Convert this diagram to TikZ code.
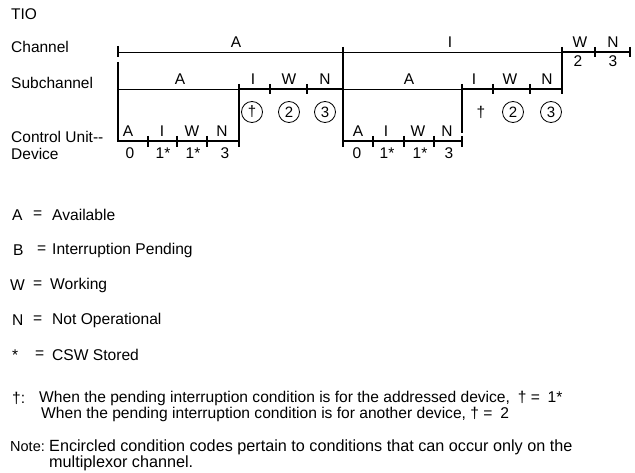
\documentclass[tikz,border=0pt]{standalone}
\usepackage{fontspec}
\setmainfont{Liberation Sans}
\begin{document}
\begin{tikzpicture}[x=1pt,y=-1pt,
  thinln/.style={line width=0.8pt},
  thickln/.style={line width=1.8pt},
  lbl/.style={inner sep=0pt, font=\fontsize{15.5}{18}\selectfont},
  lft/.style={lbl, anchor=west},
  key/.style={inner sep=0pt, anchor=west, font=\fontsize{15.6}{18}\selectfont},
  circ/.style={draw, circle, line width=0.8pt, minimum size=21pt, inner sep=0pt, font=\fontsize{15}{17}\selectfont}]
\useasboundingbox (0,0) rectangle (635,473);
% left labels
\node[lft] (tio) at (11,14) {TIO};
\node[lft] (ch) at (11,47) {Channel};
\node[lft] (sub) at (11,83) {Subchannel};
\node[lft] (cu) at (11,137) {Control Unit-{}-};
\node[lft] (dev) at (11,154) {Device};
% channel row
\draw[thickln] (118,46) -- (118,57);
\draw[thinln] (118,52) -- (343,52);
\draw[thinln] (343,52) -- (562,52);
\draw[thickln] (562,52) -- (630,52);
\foreach \x in {562,595,630} \draw[thickln] (\x,47) -- (\x,57);
\draw[thickln] (343,47) -- (343,143);
\draw[thickln] (562,52) -- (562,88);
\node[lbl] (chA) at (236,42) {A};
\node[lbl] (chI) at (450,42) {I};
\node[lbl] (chW) at (580,42) {W};
\node[lbl] (chN) at (613,42) {N};
\node[lbl] (ch2) at (578,61) {2};
\node[lbl] (ch3) at (613,61) {3};
% subchannel row
\draw[thickln] (118,62) -- (118,141);
\draw[thinln] (118,89) -- (239,89);
\draw[thickln] (239,89) -- (343,89);
\foreach \x in {239,270,307,343} \draw[thickln] (\x,84) -- (\x,94);
\draw[thickln] (239,89) -- (239,143);
\draw[thinln] (343,89) -- (462,89);
\draw[thickln] (462,89) -- (562,89);
\foreach \x in {462,493,530,562} \draw[thickln] (\x,84) -- (\x,94);
\draw[thickln] (462,89) -- (462,133);
\node[lbl] (sA1) at (180,79) {A};
\node[lbl] (sI1) at (253,79) {I};
\node[lbl] (sW1) at (289,79) {W};
\node[lbl] (sN1) at (325,79) {N};
\node[lbl] (sA2) at (409,79) {A};
\node[lbl] (sI2) at (474,79) {I};
\node[lbl] (sW2) at (510,79) {W};
\node[lbl] (sN2) at (547,79) {N};
% circles
\node[circ] (c1) at (252,112) {\dag};
\node[circ] (c2) at (289,112) {2};
\node[circ] (c3) at (325,112) {3};
\node[lbl] (d2) at (481,112) {\dag};
\node[circ] (c5) at (513,112) {2};
\node[circ] (c6) at (551,112) {3};
% control unit row
\draw[thickln] (117.1,141) -- (239,141);
\foreach \x in {148,177,207,239} \draw[thickln] (\x,136) -- (\x,147);
\draw[thickln] (343,141) -- (462,141);
\foreach \x in {343,373,404,434,462} \draw[thickln] (\x,136) -- (\x,147);
\foreach \t/\x/\n in {A/128/a1,I/162/a2,W/192/a3,N/222/a4,A/358/b1,I/386/b2,W/418/b3,N/447/b4}
  \node[lbl] (\n) at (\x,131) {\t};
\foreach \t/\x/\n in {0/130/e1,1*/163/e2,1*/193/e3,3/225/e4,0/357/f1,1*/387/f2,1*/420/f3,3/449/f4}
  \node[lbl] (\n) at (\x,153) {\t};
% legend
\node[key] (kA) at (12,215) {A};
\node[key] (kAe) at (33,215) {=};
\node[key] (kAt) at (52,215) {Available};
\node[key] (kB) at (13,250) {B};
\node[key] (kBe) at (37,250) {=};
\node[key] (kBt) at (52,250) {Interruption Pending};
\node[key] (kW) at (10,285) {W};
\node[key] (kWe) at (33,285) {=};
\node[key] (kWt) at (50,285) {Working};
\node[key] (kN) at (12,320) {N};
\node[key] (kNe) at (33,320) {=};
\node[key] (kNt) at (52,320) {Not Operational};
\node[key] (kS) at (12,355) {*};
\node[key] (kSe) at (35,355) {=};
\node[key] (kSt) at (52,355) {CSW Stored};
\node[key] (kD) at (12,398) {\dag:};
\node[key] (kD1) at (39,398) {When the pending interruption condition is for the addressed device,\enspace\dag\ =\enspace1*};
\node[key] (kD2) at (41,414) {When the pending interruption condition is for another device, \dag\ =\enspace2};
\node[key, font=\fontsize{14.5}{17}\selectfont] (nt) at (10,447) {Note:};
\node[key, font=\fontsize{16.2}{18}\selectfont] (nt1) at (49,447) {Encircled condition codes pertain to conditions that can occur only on the};
\node[key, font=\fontsize{16.2}{18}\selectfont] (nt2) at (49,463) {multiplexor channel.};
\end{tikzpicture}
\end{document}
